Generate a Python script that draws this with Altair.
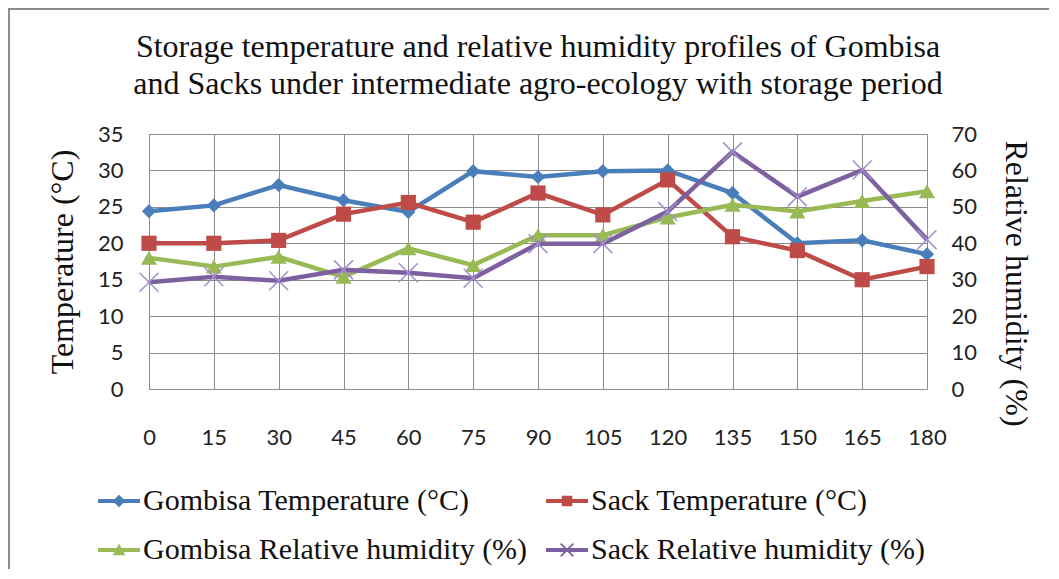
import altair as alt
import pandas as pd

# ---- data ----
days = [0, 15, 30, 45, 60, 75, 90, 105, 120, 135, 150, 165, 180]
gombisa_temp = [24.4, 25.2, 28.0, 25.9, 24.3, 29.9, 29.1, 29.9, 30.0, 26.9, 20.0, 20.4, 18.5]
sack_temp = [20.0, 20.0, 20.4, 24.0, 25.6, 22.9, 26.9, 23.9, 28.7, 20.9, 19.0, 15.0, 16.8]
gombisa_rh = [36.0, 33.6, 36.3, 30.8, 38.6, 34.0, 42.2, 42.2, 47.1, 50.6, 48.7, 51.6, 54.3]
sack_rh = [29.3, 30.8, 29.7, 32.7, 31.9, 30.4, 39.9, 39.9, 48.7, 65.1, 52.8, 60.1, 41.0]

series_names = [
    "Gombisa Temperature (°C)",
    "Sack Temperature (°C)",
    "Gombisa Relative humidity (%)",
    "Sack Relative humidity (%)",
]
series_values = [gombisa_temp, sack_temp, gombisa_rh, sack_rh]
colors = ["#4A7EBB", "#BE4B48", "#98B954", "#7D60A0"]

rows = []
for name, vals in zip(series_names, series_values):
    for d, v in zip(days, vals):
        rows.append({"day": d, "value": v, "series": name})
df = pd.DataFrame(rows)

SERIF = "Liberation Serif"
SANS = "Lato"
GRID = "#8C8C8C"

x_enc = alt.X(
    "day:Q",
    scale=alt.Scale(domain=[0, 180], nice=False, zero=False),
    axis=alt.Axis(
        values=days, title=None, grid=True, gridColor=GRID, gridWidth=1,
        domainColor=GRID, ticks=False, tickSize=0, labelPadding=38,
        labelFlush=False, labelFont=SANS, labelFontSize=22, labelColor="#222",
    ),
)

y_left = alt.Y(
    "value:Q",
    scale=alt.Scale(domain=[0, 35], nice=False),
    axis=alt.Axis(
        values=[0, 5, 10, 15, 20, 25, 30, 35], title="Temperature (°C)",
        grid=True, gridColor=GRID, domainColor=GRID, ticks=False, tickSize=0,
        labelPadding=26, labelFont=SANS, labelFontSize=22, labelColor="#222",
        titleFont=SERIF, titleFontSize=32, titleFontWeight="normal",
        titleColor="#111", titlePadding=18,
    ),
)

y_right = alt.Y(
    "value:Q",
    scale=alt.Scale(domain=[0, 70], nice=False),
    axis=alt.Axis(
        orient="right", values=[0, 10, 20, 30, 40, 50, 60, 70],
        title="Relative humidity (%)", grid=False, domain=False,
        ticks=False, tickSize=0, labelPadding=24, labelFont=SANS,
        labelFontSize=22, labelColor="#222", titleFont=SERIF,
        titleFontSize=32, titleFontWeight="normal", titleColor="#111",
        titlePadding=22, titleY=149,
    ),
)

marker_shapes = ["diamond", "square", "triangle-up", "M-1,-1L1,1M-1,1L1,-1"]
marker_sizes = [200, 230, 260, 360]


def series_layers(i, y_enc):
    name = series_names[i]
    base = alt.Chart(df).transform_filter(alt.datum.series == name)
    line = base.mark_line(color=colors[i], strokeWidth=4.5).encode(x=x_enc, y=y_enc)
    if i == 3:
        pts = base.mark_point(
            shape=marker_shapes[i], filled=False, size=marker_sizes[i],
            color="#A28FCB", strokeWidth=1.5, opacity=1,
        ).encode(x=x_enc, y=y_enc)
    else:
        pts = base.mark_point(
            shape=marker_shapes[i], filled=True, size=marker_sizes[i],
            color=colors[i], opacity=1, strokeWidth=0,
        ).encode(x=x_enc, y=y_enc)
    return [line, pts]


temp_layer = alt.layer(*(series_layers(0, y_left) + series_layers(1, y_left)))
rh_layer = alt.layer(*(series_layers(2, y_right) + series_layers(3, y_right)))

# legend symbols: line segment + marker (custom paths within [-1, 1])
bar = "M-1,-0.1L1,-0.1L1,0.1L-1,0.1Z"
legend_paths = [
    bar + "M0,-0.3L0.3,0L0,0.3L-0.3,0Z",
    bar + "M-0.25,-0.25L0.25,-0.25L0.25,0.25L-0.25,0.25Z",
    bar + "M0,-0.3L0.3,0.25L-0.3,0.25Z",
    bar + "M-0.33,-0.27L-0.27,-0.33L0.33,0.27L0.27,0.33Z"
          "M0.27,-0.33L0.33,-0.27L-0.27,0.33L-0.33,0.27Z",
]

legend_def = alt.Legend(
    title=None, orient="none", legendX=-51, legendY=346, columns=2,
    direction="horizontal", columnPadding=18, rowPadding=13,
    symbolSize=1764, symbolStrokeWidth=0,
    labelFont=SERIF, labelFontSize=30, labelColor="#111", labelOffset=3,
    labelLimit=600,
)

legend_layer = (
    alt.Chart(pd.DataFrame({"series": series_names}))
    .transform_filter("false")
    .mark_point(filled=True, size=1764, opacity=1)
    .encode(
        color=alt.Color("series:N", scale=alt.Scale(domain=series_names, range=colors),
                        legend=legend_def, sort=series_names),
        shape=alt.Shape("series:N", scale=alt.Scale(domain=series_names, range=legend_paths),
                        legend=legend_def, sort=series_names),
    )
)

frame = alt.Chart(pd.DataFrame({"a": [0]})).mark_rect(
    filled=False, stroke="#8C8C8C", strokeWidth=2
).encode(
    x=alt.value(-140), y=alt.value(-125), x2=alt.value(1200), y2=alt.value(700)
)

chart = (
    alt.layer(frame, temp_layer, rh_layer, legend_layer)
    .resolve_scale(y="independent")
    .properties(
        width=778,
        height=255,
        padding={"left": 141, "top": 126, "right": 122, "bottom": 180},
        autosize=alt.AutoSizeParams(type="none"),
        title=alt.Title(
            ["Storage temperature and relative humidity profiles of Gombisa",
             "and Sacks under intermediate agro-ecology with storage period"],
            font=SERIF, fontSize=32, fontWeight="normal", color="#111",
            lineHeight=37, offset=0, dy=93, anchor="middle", frame="group",
        ),
    )
    .configure_view(stroke=None)
    .configure(background="white")
)

chart.save("out.html", embed_options={"renderer": "svg", "actions": False})
